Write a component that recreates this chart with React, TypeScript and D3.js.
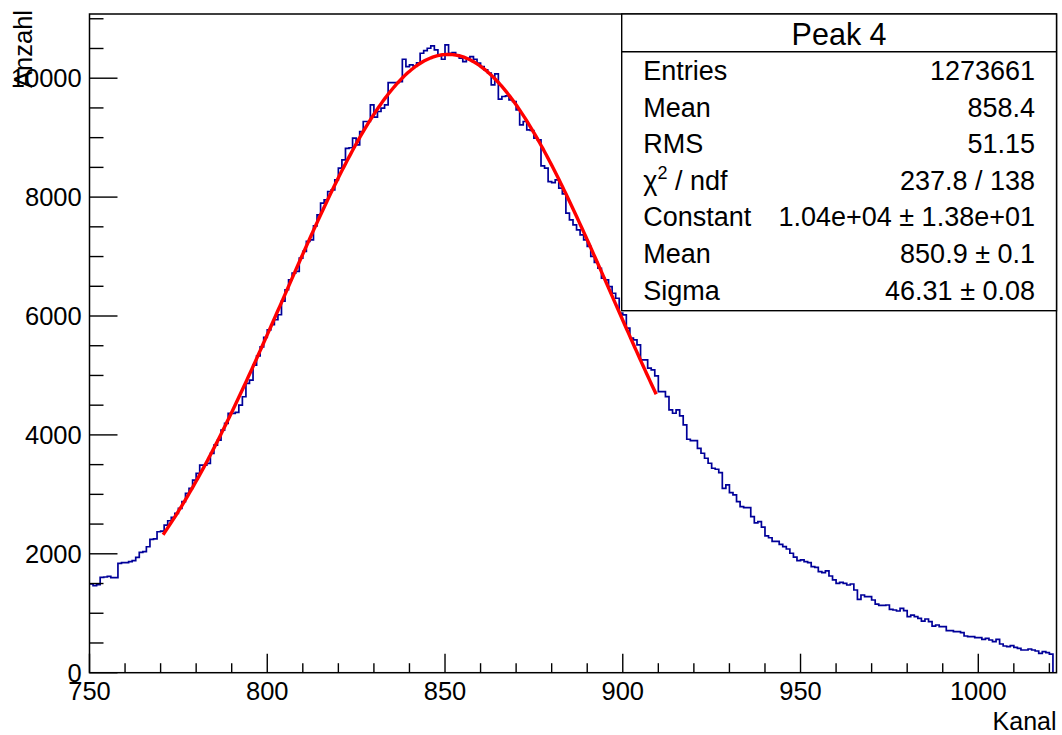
import React from "react";
import * as d3 from "d3";

// ---- data ----
const CHANNEL_START = 750;
const COUNTS = [
  1492, 1464, 1480, 1604, 1610, 1620, 1600, 1600, 1839, 1850,
  1850, 1870, 1884, 1940, 2024, 2035, 2119, 2242, 2250, 2371,
  2380, 2483, 2556, 2612, 2680, 2764, 2876, 3016, 3100, 3240,
  3352, 3492, 3492, 3520, 3689, 3829, 3913, 4081, 4193, 4362,
  4362, 4380, 4502, 4642, 4867, 4923, 5175, 5330, 5480, 5640,
  5765, 5853, 5937, 6021, 6250, 6442, 6610, 6722, 6750, 6974,
  7086, 7254, 7282, 7517, 7700, 7898, 7954, 8094, 8122, 8290,
  8487, 8627, 8820, 8830, 8991, 8879, 9100, 9272, 9272, 9552,
  9345, 9440, 9496, 9552, 9927, 9927, 9927, 9940, 10319, 10196,
  10224, 10208, 10260, 10420, 10465, 10504, 10543, 10476, 10392, 10319,
  10560, 10420, 10431, 10392, 10336, 10280, 10336, 10364, 10319, 10252,
  10196, 10140, 10084, 9888, 10073, 9647, 9692, 9703, 9636, 9608,
  9468, 9216, 9272, 9131, 9120, 8991, 8963, 8526, 8487, 8262,
  8245, 8290, 8150, 8054, 7730, 7618, 7534, 7450, 7366, 7282,
  7170, 7002, 6900, 6803, 6635, 6607, 6495, 6383, 6299, 6047,
  6019, 5795, 5627, 5599, 5515, 5263, 5263, 5123, 5095, 4994,
  4728, 4728, 4643, 4420, 4364, 4420, 4319, 4167, 3927, 3903,
  3903, 3775, 3691, 3607, 3523, 3439, 3422, 3365, 3102, 3158,
  3029, 2990, 2877, 2793, 2776, 2776, 2624, 2520, 2540, 2450,
  2300, 2270, 2210, 2210, 2160, 2120, 2081, 2009, 1943, 1886,
  1897, 1869, 1852, 1784, 1773, 1701, 1684, 1712, 1627, 1560,
  1503, 1520, 1503, 1475, 1492, 1391, 1234, 1307, 1279, 1279,
  1223, 1155, 1133, 1133, 1139, 1066, 1055, 1038, 1083, 1044,
  942, 970, 942, 914, 869, 903, 858, 785, 802, 774,
  774, 707, 707, 690, 690, 673, 617, 606, 606, 589,
  589, 561, 578, 550, 522, 561, 483, 449, 438, 455,
  427, 410, 382, 382, 399, 382, 365, 326, 353, 337,
  314,
];
const X_DOMAIN = [750, 1022];
const Y_MAX = 11080;
const X_TICK_LABELS = [750, 800, 850, 900, 950, 1000];
const Y_TICK_LABELS = [0, 2000, 4000, 6000, 8000, 10000];
const X_MINOR_STEP = 10;
const Y_MINOR_STEP = 500;

const FIT_CONSTANT = 10400;
const FIT_MEAN = 850.9;
const FIT_SIGMA = 46.31;
const FIT_RANGE = [770.7, 909.4];

const STATS_TITLE = "Peak 4";
const STATS_LABELS = ["Entries", "Mean", "RMS", "CHI", "Constant", "Mean", "Sigma"];
const STATS_VALUES = [
  "1273661",
  "858.4",
  "51.15",
  "237.8 / 138",
  "1.04e+04 \u00b1 1.38e+01",
  "850.9 \u00b1 0.1",
  "46.31 \u00b1 0.08",
];

const X_TITLE = "Kanal";
const Y_TITLE = "Anzahl";

// ---- layout ----
const W = 1062;
const H = 735;
const FL = 89.5;
const FR = 1056.5;
const FT = 14;
const FB = 672.7;
const FONT = "'Liberation Sans', Arial, Helvetica, sans-serif";

export default function App() {
  const x = d3.scaleLinear().domain(X_DOMAIN).range([FL, FR]);
  const y = d3.scaleLinear().domain([0, Y_MAX]).range([FB, FT]);

  const pts: [number, number][] = [];
  COUNTS.forEach((c, i) => pts.push([CHANNEL_START + i, c]));
  const endX = CHANNEL_START + COUNTS.length;
  pts.push([endX, COUNTS[COUNTS.length - 1]]);
  pts.push([endX, 0]);
  const histPath = d3
    .line<[number, number]>()
    .x((d) => x(d[0]))
    .y((d) => y(d[1]))
    .curve(d3.curveStepAfter)(pts) as string;

  const fitXs = d3.range(0, 301).map((i) => FIT_RANGE[0] + ((FIT_RANGE[1] - FIT_RANGE[0]) * i) / 300);
  const fitPath = d3
    .line<number>()
    .x((v) => x(v))
    .y((v) => y(FIT_CONSTANT * Math.exp(-0.5 * ((v - FIT_MEAN) / FIT_SIGMA) ** 2)))(fitXs) as string;

  const xMinor = d3.range(X_DOMAIN[0], X_DOMAIN[1] + 0.001, X_MINOR_STEP);
  const yMinor = d3.range(0, Y_MAX, Y_MINOR_STEP);

  const boxL = 621.7;
  const boxR = FR;
  const boxT = FT;
  const boxSep = 51.7;
  const boxB = 310.7;
  const rowStart = 80;
  const rowStep = 36.6;

  return (
    <svg
      width={W}
      height={H}
      style={{ position: "absolute", left: 0, top: 0, display: "block", background: "#fff" }}
      fontFamily={FONT}
    >
      <rect x={0} y={0} width={W} height={H} fill="#fff" />
      {/* histogram */}
      <path d={histPath} fill="none" stroke="#000099" strokeWidth={1.7} />
      {/* fit */}
      <path d={fitPath} fill="none" stroke="#ff0000" strokeWidth={3.4} />

      {/* frame */}
      <rect x={FL} y={FT} width={FR - FL} height={FB - FT} fill="none" stroke="#000" strokeWidth={1.5} />

      {/* x ticks */}
      {xMinor.map((v) => {
        const major = X_TICK_LABELS.includes(v);
        return (
          <line key={"xt" + v} x1={x(v)} x2={x(v)} y1={FB} y2={FB - (major ? 19 : 9.5)} stroke="#000" strokeWidth={1.4} />
        );
      })}
      {X_TICK_LABELS.map((v) => (
        <text key={"xl" + v} x={x(v)} y={FB + 27.5} fontSize={25.5} textAnchor="middle">
          {v}
        </text>
      ))}

      {/* y ticks */}
      {yMinor.map((v) => {
        const major = Y_TICK_LABELS.includes(v);
        return (
          <line key={"yt" + v} x1={FL} x2={FL + (major ? 28 : 14)} y1={y(v)} y2={y(v)} stroke="#000" strokeWidth={1.4} />
        );
      })}
      {Y_TICK_LABELS.map((v) => (
        <text key={"yl" + v} x={81.7} y={y(v)} dy="0.36em" fontSize={25.5} textAnchor="end">
          {v}
        </text>
      ))}

      {/* axis titles */}
      <text x={FR} y={730} fontSize={25} textAnchor="end">
        {X_TITLE}
      </text>
      <text transform={`translate(31.5, 10) rotate(-90)`} fontSize={25.5} textAnchor="end">
        {Y_TITLE}
      </text>

      {/* stats box */}
      <rect x={boxL} y={boxT} width={boxR - boxL} height={boxB - boxT} fill="#fff" stroke="#000" strokeWidth={1.4} />
      <line x1={boxL} x2={boxR} y1={boxSep} y2={boxSep} stroke="#000" strokeWidth={1.4} />
      <text x={(boxL + boxR) / 2} y={45} fontSize={30.5} textAnchor="middle">
        {STATS_TITLE}
      </text>
      {STATS_LABELS.map((lab, i) => (
        <text key={"sl" + i} x={643.3} y={rowStart + rowStep * i} fontSize={27}>
          {lab === "CHI" ? (
            <>
              <tspan>{"\u03c7"}</tspan>
              <tspan dy={-11} fontSize={18}>
                2
              </tspan>
              <tspan dy={11}>{" / ndf"}</tspan>
            </>
          ) : (
            lab
          )}
        </text>
      ))}
      {STATS_VALUES.map((val, i) => (
        <text key={"sv" + i} x={1035} y={rowStart + rowStep * i} fontSize={27} textAnchor="end">
          {val}
        </text>
      ))}
    </svg>
  );
}
